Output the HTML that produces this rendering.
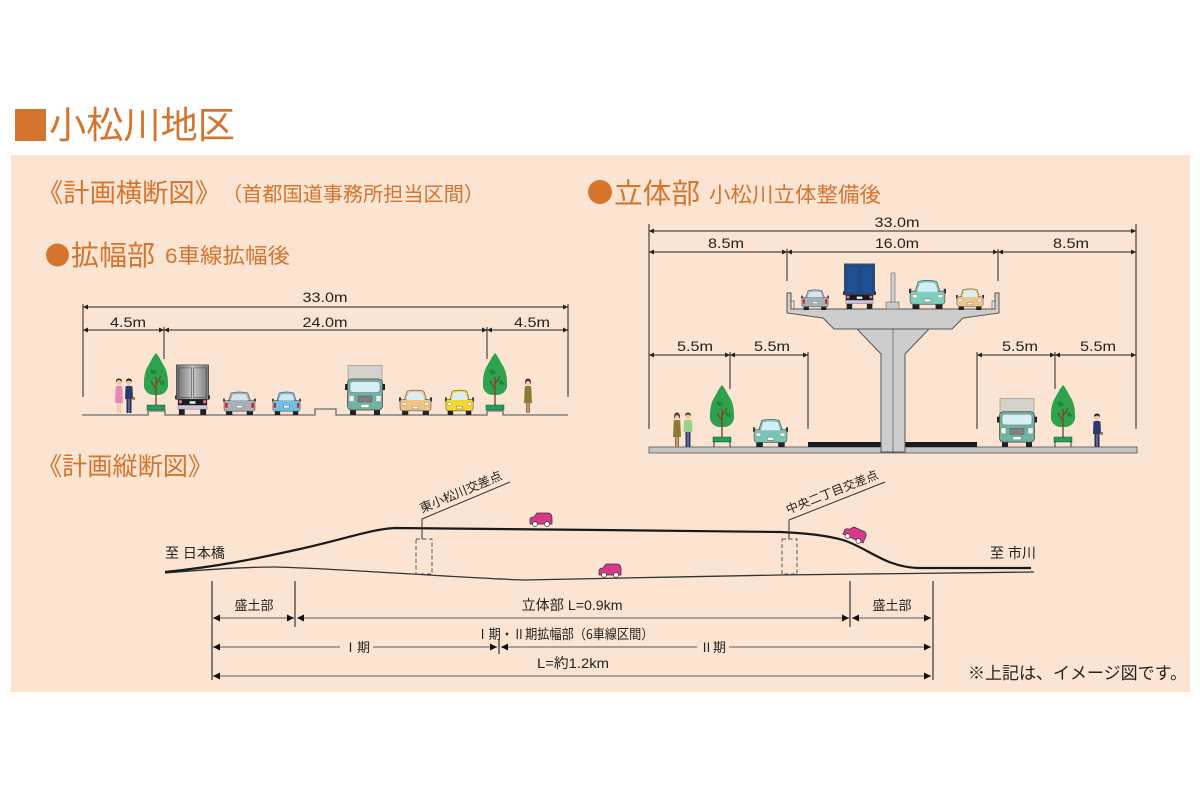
<!DOCTYPE html>
<html><head><meta charset="utf-8"><style>
html,body{margin:0;padding:0;background:#fff;}
svg{display:block;}
.jp{font-family:"Liberation Sans","Noto Sans CJK JP",sans-serif;}
.d{stroke:#222;stroke-width:1;fill:none;}
.e{stroke:#222;stroke-width:1;}
.g{stroke:#777;stroke-width:1.3;fill:none;}
</style></head><body>
<svg width="1200" height="800" viewBox="0 0 1200 800" xmlns="http://www.w3.org/2000/svg" class="jp">
<defs>
<marker id="ma" viewBox="0 0 10 10" refX="10" refY="5" markerWidth="6" markerHeight="5" orient="auto-start-reverse" markerUnits="userSpaceOnUse"><path d="M0,0L10,5L0,10Z" fill="#222"/></marker>
<marker id="mb" viewBox="0 0 10 10" refX="10" refY="5" markerWidth="13" markerHeight="7" orient="auto-start-reverse" markerUnits="userSpaceOnUse"><path d="M0,0L10,5L0,10Z" fill="#111"/></marker>
<linearGradient id="gbox" x1="0" x2="1"><stop offset="0" stop-color="#6d6d6d"/><stop offset=".5" stop-color="#c9c9c9"/><stop offset="1" stop-color="#7a7a7a"/></linearGradient>
<symbol id="tree" viewBox="-12 -60 24 60" overflow="visible">
<path d="M0,-58 C3,-55 5,-50 8,-45 C11,-40 12,-34 12,-28 C13,-21 8,-16 2,-16 L-2,-16 C-8,-16 -13,-21 -12,-28 C-12,-34 -11,-40 -8,-45 C-5,-50 -3,-55 0,-58 Z" fill="#2EA24C"/>
<path d="M-6,-40 Q-2,-44 1,-38 Q-3,-34 -6,-40Z M3,-30 Q7,-33 9,-27 Q5,-24 3,-30Z" fill="#1E8A3C"/>
<path d="M0,-5 V-34 M0,-22 L-5,-30 M0,-27 L5,-35" stroke="#7A4B2B" stroke-width="1.4" fill="none"/>
<rect x="-9" y="-6" width="18" height="5" fill="#1FA257" stroke="#145030" stroke-width=".5"/>
</symbol>
<symbol id="carF" viewBox="0 0 32 26" preserveAspectRatio="none">
<rect x="3" y="19" width="6" height="7" fill="#222"/><rect x="23" y="19" width="6" height="7" fill="#222"/>
<rect x="-1" y="9" width="3" height="4" fill="#333"/><rect x="30" y="9" width="3" height="4" fill="#333"/>
<path d="M5,12 L8,3 Q16,1 24,3 L27,12 Z" fill="currentColor" stroke="#555" stroke-width=".6"/>
<rect x="1" y="11" width="30" height="11" rx="2.5" fill="currentColor" stroke="#555" stroke-width=".6"/>
<path d="M7,11.5 L9.5,4.5 Q16,3 22.5,4.5 L25,11.5 Z" fill="#D6EEF5"/>
<rect x="3" y="14" width="4" height="2.5" fill="#fff" stroke="#777" stroke-width=".3"/><rect x="25" y="14" width="4" height="2.5" fill="#fff" stroke="#777" stroke-width=".3"/>
<rect x="13" y="17.5" width="6" height="2.6" fill="#fff" stroke="#555" stroke-width=".4"/>
</symbol>
<symbol id="carR" viewBox="0 0 32 26" preserveAspectRatio="none">
<rect x="3" y="19" width="6" height="7" fill="#222"/><rect x="23" y="19" width="6" height="7" fill="#222"/>
<rect x="-1" y="9" width="3" height="3" fill="#444"/><rect x="30" y="9" width="3" height="3" fill="#444"/>
<path d="M5,12 L8,3 Q16,1 24,3 L27,12 Z" fill="currentColor" stroke="#555" stroke-width=".6"/>
<rect x="1" y="11" width="30" height="11" rx="2" fill="currentColor" stroke="#555" stroke-width=".6"/>
<path d="M7.5,11 L9.5,5 Q16,3.5 22.5,5 L24.5,11 Z" fill="#D6E6EE"/>
<rect x="2" y="13.5" width="2.5" height="5" fill="#D22"/><rect x="27.5" y="13.5" width="2.5" height="5" fill="#D22"/>
<rect x="13" y="16" width="6" height="2.6" fill="#fff" stroke="#555" stroke-width=".4"/>
</symbol>
<symbol id="truckR" viewBox="0 0 36 52" preserveAspectRatio="none">
<rect x="4" y="44" width="6" height="8" fill="#222"/><rect x="26" y="44" width="6" height="8" fill="#222"/>
<rect x="1.5" y="1" width="33" height="35" fill="var(--bx)" stroke="#444" stroke-width=".8"/>
<rect x="4" y="4" width="13" height="30" fill="none" stroke="#333" stroke-width=".5"/><rect x="19" y="4" width="13" height="30" fill="none" stroke="#333" stroke-width=".5"/>
<rect x="0" y="32" width="2" height="4" fill="#333"/><rect x="34" y="32" width="2" height="4" fill="#333"/>
<rect x="3" y="36" width="30" height="6" fill="#1a1a1a"/>
<rect x="4" y="37" width="3" height="3" fill="#E79"/><rect x="29" y="37" width="3" height="3" fill="#E79"/>
<rect x="15" y="38" width="6" height="2.5" fill="#fff"/>
<rect x="3" y="42" width="30" height="4" fill="#C9C3DD" stroke="#666" stroke-width=".4"/>
</symbol>
<symbol id="truckF" viewBox="0 0 40 50" preserveAspectRatio="none">
<rect x="3" y="0.5" width="34" height="22" fill="#D4D2CA" stroke="#888" stroke-width=".6"/>
<rect x="5" y="43" width="6" height="7" fill="#222"/><rect x="29" y="43" width="6" height="7" fill="#222"/>
<rect x="0" y="19" width="3" height="6" fill="#222"/><rect x="37" y="19" width="3" height="6" fill="#222"/>
<rect x="2.5" y="14" width="35" height="31" rx="4" fill="#6FB3A3" stroke="#444" stroke-width=".7"/>
<rect x="5" y="16.5" width="30" height="11" rx="3" fill="#D6EEF4" stroke="#555" stroke-width=".4"/>
<rect x="13" y="31" width="14" height="6" fill="#808080" stroke="#444" stroke-width=".4"/>
<rect x="4" y="30.5" width="5" height="6" fill="#EEE" stroke="#666" stroke-width=".3"/><rect x="31" y="30.5" width="5" height="6" fill="#EEE" stroke="#666" stroke-width=".3"/>
<rect x="16" y="39.5" width="8" height="3" fill="#fff" stroke="#555" stroke-width=".3"/>
</symbol>
<symbol id="pcar" viewBox="0 0 24 15" overflow="visible">
<path d="M1,12 L1,7 Q2,5 5,5 L8,1 L19,1 Q22.5,1 23,5 L23,12 Z" fill="#D8388A" stroke="#333" stroke-width=".7"/>
<circle cx="6" cy="12" r="2.4" fill="#fff" stroke="#333" stroke-width=".7"/><circle cx="18" cy="12" r="2.4" fill="#fff" stroke="#333" stroke-width=".7"/>
</symbol>
</defs>

<!-- title -->
<rect x="15" y="109" width="31" height="32" fill="#D4742E"/>
<text x="49" y="138" font-size="37" fill="#D4742E" textLength="186" lengthAdjust="spacingAndGlyphs">小松川地区</text>

<!-- panel -->
<rect x="11" y="155" width="1179" height="537" fill="#FCE4D2"/>

<text x="37" y="202" font-size="26" fill="#D4742E" textLength="184" lengthAdjust="spacingAndGlyphs">《計画横断図》</text>
<text x="222" y="201" font-size="20" fill="#D4742E" textLength="262" lengthAdjust="spacingAndGlyphs">（首都国道事務所担当区間）</text>
<circle cx="57.5" cy="255" r="11.5" fill="#D4742E"/>
<text x="71" y="265" font-size="28" fill="#D4742E" textLength="84" lengthAdjust="spacingAndGlyphs">拡幅部</text>
<text x="165" y="263" font-size="21" fill="#D4742E" textLength="125" lengthAdjust="spacingAndGlyphs">6車線拡幅後</text>
<circle cx="600" cy="192" r="12" fill="#D4742E"/>
<text x="614" y="203" font-size="28" fill="#D4742E" textLength="86" lengthAdjust="spacingAndGlyphs">立体部</text>
<text x="709" y="202" font-size="21" fill="#D4742E" textLength="172" lengthAdjust="spacingAndGlyphs">小松川立体整備後</text>
<text x="37" y="475" font-size="25" fill="#D4742E" textLength="176" lengthAdjust="spacingAndGlyphs">《計画縦断図》</text>

<!-- ===== left cross-section ===== -->
<g font-size="14" fill="#222" text-anchor="middle">
<text x="325" y="302" textLength="45" lengthAdjust="spacingAndGlyphs">33.0m</text>
<text x="128" y="327" textLength="36" lengthAdjust="spacingAndGlyphs">4.5m</text>
<text x="325" y="327" textLength="45" lengthAdjust="spacingAndGlyphs">24.0m</text>
<text x="532" y="327" textLength="36" lengthAdjust="spacingAndGlyphs">4.5m</text>
</g>
<line x1="83" y1="307" x2="568" y2="307" class="d" marker-start="url(#ma)" marker-end="url(#ma)"/>
<line x1="83" y1="330" x2="164" y2="330" class="d" marker-start="url(#ma)" marker-end="url(#ma)"/>
<line x1="164" y1="330" x2="487" y2="330" class="d" marker-start="url(#ma)" marker-end="url(#ma)"/>
<line x1="487" y1="330" x2="568" y2="330" class="d" marker-start="url(#ma)" marker-end="url(#ma)"/>
<line x1="83" y1="304" x2="83" y2="397" class="e"/>
<line x1="568" y1="304" x2="568" y2="397" class="e"/>
<line x1="164" y1="327" x2="164" y2="359" class="e"/>
<line x1="487" y1="327" x2="487" y2="359" class="e"/>
<path d="M82,415 H148 V411 H165 V415 H315 V409 H336 V415 H487 V411 H503 V415 H568" stroke="#808080" stroke-width="1.6" fill="none"/>

<use href="#tree" x="144" y="351" width="24" height="60"/>
<use href="#tree" x="483" y="351" width="24" height="60"/>

<!-- people left -->
<g transform="translate(114,378)">
<circle cx="5" cy="4" r="2.8" fill="#F1C6A5"/><path d="M2,4.5 Q1.5,0.5 5,0.5 Q8.5,0.5 8,4.5 Q7,2 5,2 Q3,2 2,4.5Z" fill="#4A2418"/>
<path d="M1.8,8.5 Q5,7 8.2,8.5 L9,25 L1,25 Z" fill="#E986B8"/>
<rect x="3" y="25" width="1.6" height="10" fill="#F1C6A5"/><rect x="5.4" y="25" width="1.6" height="10" fill="#F1C6A5"/>
</g>
<g transform="translate(124,378)">
<circle cx="5" cy="4" r="2.8" fill="#F1C6A5"/><path d="M2,4 Q2,0.5 5,0.5 Q8,0.5 8,4 Q6.5,2.5 5,2.5 Q3.5,2.5 2,4Z" fill="#2a1a10"/>
<path d="M1.5,8.5 Q5,7 8.5,8.5 L9,21 L1,21 Z" fill="#2B3A6B"/>
<rect x="2.5" y="21" width="2.2" height="14" fill="#25305A"/><rect x="5.3" y="21" width="2.2" height="14" fill="#25305A"/>
<rect x="8.5" y="19" width="2.5" height="3" fill="#B07A3A"/>
</g>
<g transform="translate(523,378)">
<circle cx="5" cy="4" r="2.8" fill="#F1C6A5"/><path d="M2,7 Q1.5,0.5 5,0.5 Q8.5,0.5 8,7 Q7,3 5,3 Q3,3 2,7Z" fill="#6B2B1B"/>
<path d="M1.8,8.5 Q5,7 8.2,8.5 L9,25 L1,25 Z" fill="#8A7A36"/>
<rect x="3" y="25" width="1.6" height="10" fill="#9A6A4A"/><rect x="5.4" y="25" width="1.6" height="10" fill="#9A6A4A"/>
</g>

<!-- vehicles left -->
<use href="#truckR" x="175" y="364" width="35" height="51" style="--bx:url(#gbox)"/>
<use href="#carR" x="223" y="390" width="33" height="25" color="#A7B0BA"/>
<use href="#carR" x="272" y="390" width="29" height="25" color="#6CC0E4"/>
<use href="#truckF" x="345" y="365" width="40" height="50"/>
<use href="#carF" x="399" y="388" width="33" height="27" color="#F2C384"/>
<use href="#carF" x="445" y="388" width="29" height="27" color="#F7D52A"/>

<!-- ===== right (elevated) cross-section ===== -->
<g font-size="14" fill="#222" text-anchor="middle">
<text x="897" y="227" textLength="45" lengthAdjust="spacingAndGlyphs">33.0m</text>
<text x="726" y="248" textLength="36" lengthAdjust="spacingAndGlyphs">8.5m</text>
<text x="897" y="248" textLength="44" lengthAdjust="spacingAndGlyphs">16.0m</text>
<text x="1071" y="248" textLength="36" lengthAdjust="spacingAndGlyphs">8.5m</text>
<text x="695" y="351" textLength="36" lengthAdjust="spacingAndGlyphs">5.5m</text>
<text x="772" y="351" textLength="36" lengthAdjust="spacingAndGlyphs">5.5m</text>
<text x="1020" y="351" textLength="36" lengthAdjust="spacingAndGlyphs">5.5m</text>
<text x="1098" y="351" textLength="36" lengthAdjust="spacingAndGlyphs">5.5m</text>
</g>
<line x1="649" y1="231" x2="1136" y2="231" class="d" marker-start="url(#ma)" marker-end="url(#ma)"/>
<line x1="649" y1="252" x2="787" y2="252" class="d" marker-start="url(#ma)" marker-end="url(#ma)"/>
<line x1="787" y1="252" x2="998" y2="252" class="d" marker-start="url(#ma)" marker-end="url(#ma)"/>
<line x1="998" y1="252" x2="1136" y2="252" class="d" marker-start="url(#ma)" marker-end="url(#ma)"/>
<line x1="649" y1="355" x2="730" y2="355" class="d" marker-start="url(#ma)" marker-end="url(#ma)"/>
<line x1="730" y1="355" x2="808" y2="355" class="d" marker-start="url(#ma)" marker-end="url(#ma)"/>
<line x1="977" y1="355" x2="1055" y2="355" class="d" marker-start="url(#ma)" marker-end="url(#ma)"/>
<line x1="1055" y1="355" x2="1136" y2="355" class="d" marker-start="url(#ma)" marker-end="url(#ma)"/>
<line x1="649" y1="224" x2="649" y2="429" class="e"/>
<line x1="1136" y1="224" x2="1136" y2="429" class="e"/>
<line x1="787" y1="249" x2="787" y2="281" class="e"/>
<line x1="998" y1="249" x2="998" y2="281" class="e"/>
<line x1="730" y1="352" x2="730" y2="389" class="e"/>
<line x1="1055" y1="352" x2="1055" y2="389" class="e"/>
<line x1="808" y1="352" x2="808" y2="429" class="e"/>
<line x1="977" y1="352" x2="977" y2="429" class="e"/>

<!-- ground slab -->
<rect x="649" y="447" width="488" height="6" fill="#C4C4C4" stroke="#555" stroke-width=".8"/>
<rect x="808" y="442" width="73" height="5" fill="#1a1a1a"/>
<rect x="905" y="442" width="72" height="5" fill="#1a1a1a"/>
<!-- pier -->
<path d="M857,329 L929,329 L905,354 L905,452 L881,452 L881,354 Z" fill="#CDCDCD" stroke="#555" stroke-width="1"/>
<line x1="893" y1="329" x2="893" y2="452" stroke="#666" stroke-width=".8"/>
<!-- deck -->
<path d="M787,293 L791,293 L791,309 L995,309 L995,293 L999,293 L999,313 L963,318 L952,329 L834,329 L823,318 L787,313 Z" fill="#CDCDCD" stroke="#555" stroke-width="1"/>
<path d="M791,301 L794,301 L794,309 M995,301 L992,301 L992,309" stroke="#555" stroke-width=".7" fill="none"/>
<!-- deck vehicles -->
<use href="#carR" x="801" y="288" width="28" height="22" color="#A7B0BA"/>
<use href="#truckR" x="843" y="263" width="33" height="46" style="--bx:#1F4F94"/>
<rect x="891" y="273" width="4" height="30" fill="#D0D0D0" stroke="#666" stroke-width=".6"/>
<rect x="886" y="302" width="13" height="7" fill="#C8C8C8" stroke="#666" stroke-width=".6"/>
<use href="#carF" x="909" y="278" width="37" height="31" color="#7ECFC0"/>
<use href="#carF" x="956" y="287" width="28" height="23" color="#F2C384"/>

<!-- lower trees (bench planters) -->
<use href="#tree" x="710" y="383" width="24" height="60"/>
<use href="#tree" x="1051" y="383" width="24" height="60"/>
<path d="M714,441 V447 M730,441 V447 M1055,441 V447 M1071,441 V447" stroke="#333" stroke-width="1"/>

<!-- lower people -->
<g transform="translate(672,412)">
<circle cx="5" cy="4" r="2.8" fill="#F1C6A5"/><path d="M2,8 Q1.5,0.5 5,0.5 Q8.5,0.5 8,8 Q7,3 5,3 Q3,3 2,8Z" fill="#6B2B1B"/>
<path d="M1.8,8.5 Q5,7 8.2,8.5 L9,25 L1,25 Z" fill="#8A7A36"/>
<rect x="3" y="25" width="1.6" height="10" fill="#9A6A4A"/><rect x="5.4" y="25" width="1.6" height="10" fill="#9A6A4A"/>
</g>
<g transform="translate(683,412)">
<circle cx="5" cy="4" r="2.8" fill="#F1C6A5"/><path d="M2,4 Q2,0.5 5,0.5 Q8,0.5 8,4 Q6.5,2.5 5,2.5 Q3.5,2.5 2,4Z" fill="#6B2B1B"/>
<path d="M1,8.5 Q5,7 9,8.5 L9.5,20 L0.5,20 Z" fill="#9ED08A"/>
<rect x="2.5" y="20" width="2.2" height="15" fill="#2B3A6B"/><rect x="5.3" y="20" width="2.2" height="15" fill="#2B3A6B"/>
</g>
<g transform="translate(1092,413)">
<circle cx="5" cy="4" r="2.8" fill="#F1C6A5"/><path d="M2,4 Q2,0.5 5,0.5 Q8,0.5 8,4 Q6.5,2.5 5,2.5 Q3.5,2.5 2,4Z" fill="#2a1a10"/>
<path d="M1.5,8.5 Q5,7 8.5,8.5 L9,21 L1,21 Z" fill="#2B3A6B"/>
<rect x="2.5" y="21" width="2.2" height="13" fill="#25305A"/><rect x="5.3" y="21" width="2.2" height="13" fill="#25305A"/>
<rect x="8.5" y="19" width="2.5" height="3" fill="#B07A3A"/>
</g>
<use href="#carF" x="753" y="417" width="35" height="30" color="#7AC4B6"/>
<use href="#truckF" x="997" y="398" width="40" height="49"/>

<!-- ===== longitudinal profile ===== -->
<path d="M165,573 C200,570 245,567 275,567 C330,568 460,578 525,580 C600,579 700,576 780,575 L1034,572" stroke="#333" stroke-width="1.3" fill="none"/>
<path d="M165,572 C215,567 255,559 300,549 C345,539 372,529 395,528 L600,530 L780,532 C805,533 825,535 843,540 C868,548 885,567 918,568 L1031,568" stroke="#1a1a1a" stroke-width="2.2" fill="none"/>

<rect x="416" y="539" width="16" height="35" fill="none" stroke="#555" stroke-width="1" stroke-dasharray="4,2.5"/>
<path d="M422,539 V519 L510,482" stroke="#333" stroke-width="1" fill="none"/>
<text transform="translate(422,513) rotate(-22.8)" font-size="12.5" fill="#222" textLength="88" lengthAdjust="spacingAndGlyphs">東小松川交差点</text>

<rect x="782" y="539" width="15" height="35" fill="none" stroke="#555" stroke-width="1" stroke-dasharray="4,2.5"/>
<path d="M789,539 V520 L885,482" stroke="#333" stroke-width="1" fill="none"/>
<text transform="translate(788,514) rotate(-21.6)" font-size="12" fill="#222" textLength="98" lengthAdjust="spacingAndGlyphs">中央二丁目交差点</text>

<use href="#pcar" x="529" y="512" width="24" height="15"/>
<use href="#pcar" x="598" y="563" width="24" height="15"/>
<g transform="translate(843,527) rotate(24 12 7)"><use href="#pcar" x="0" y="0" width="24" height="15"/></g>

<text x="165" y="558" font-size="14" fill="#222">至 日本橋</text>
<text x="990" y="558" font-size="14" fill="#222">至 市川</text>

<!-- dimension verticals -->
<g stroke="#333" stroke-width="1.2">
<line x1="212" y1="581" x2="212" y2="680"/>
<line x1="295" y1="581" x2="295" y2="627"/>
<line x1="850" y1="581" x2="850" y2="627"/>
<line x1="933" y1="581" x2="933" y2="680"/>
<line x1="499" y1="640" x2="499" y2="654"/>
</g>
<!-- rows -->
<line x1="213" y1="618" x2="294" y2="618" class="g" marker-start="url(#mb)" marker-end="url(#mb)"/>
<line x1="297" y1="618" x2="849" y2="618" class="g" marker-start="url(#mb)" marker-end="url(#mb)"/>
<line x1="852" y1="618" x2="931" y2="618" class="g" marker-start="url(#mb)" marker-end="url(#mb)"/>
<line x1="213" y1="647" x2="340" y2="647" class="g" marker-start="url(#mb)"/>
<line x1="373" y1="647" x2="497" y2="647" class="g" marker-end="url(#mb)"/>
<line x1="501" y1="647" x2="697" y2="647" class="g" marker-start="url(#mb)"/>
<line x1="729" y1="647" x2="931" y2="647" class="g" marker-end="url(#mb)"/>
<line x1="213" y1="676" x2="931" y2="676" class="g" marker-start="url(#mb)" marker-end="url(#mb)"/>

<g fill="#222" text-anchor="middle">
<text x="254" y="610" font-size="13">盛土部</text>
<text x="892" y="610" font-size="13">盛土部</text>
<text x="572" y="610" font-size="14" textLength="101" lengthAdjust="spacingAndGlyphs">立体部 L=0.9km</text>
<text x="565" y="639" font-size="13.5" textLength="177" lengthAdjust="spacingAndGlyphs" style="font-family:'Noto Sans CJK JP','Liberation Sans',sans-serif">Ⅰ期・Ⅱ期拡幅部（6車線区間）</text>
<text x="357" y="652" font-size="13" style="font-family:'Noto Sans CJK JP',sans-serif">Ⅰ期</text>
<text x="713" y="652" font-size="13" style="font-family:'Noto Sans CJK JP',sans-serif">Ⅱ期</text>
<text x="573" y="668" font-size="14" textLength="72" lengthAdjust="spacingAndGlyphs">L=約1.2km</text>
</g>
<text x="968" y="679" font-size="17" fill="#222" textLength="219" lengthAdjust="spacingAndGlyphs">※上記は、イメージ図です。</text>
</svg>
</body></html>
